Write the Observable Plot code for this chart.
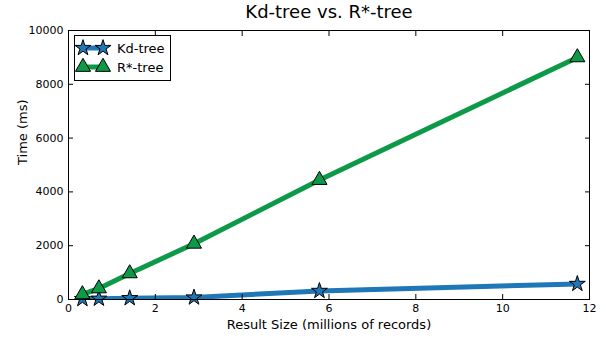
<!DOCTYPE html>
<html>
<head>
<meta charset="utf-8">
<script src="https://cdn.jsdelivr.net/npm/d3@7"></script>
<script src="https://cdn.jsdelivr.net/npm/@observablehq/plot@0.6"></script>
<style>
  html, body { margin: 0; padding: 0; background: #fff; }
  svg { display: block; }
</style>
</head>
<body>
<div id="chart"></div>
<script>
const title = "Kd-tree vs. R*-tree";
const xLabel = "Result Size (millions of records)";
const yLabel = "Time (ms)";
const resultSize = [0.32, 0.70, 1.41, 2.89, 5.78, 11.72];
const kdTree = [15, 30, 50, 75, 320, 580];
const rStarTree = [190, 410, 970, 2070, 4440, 9000];
const seriesNames = ["Kd-tree", "R*-tree"];
const seriesColors = ["#1f77b8", "#0d9a48"];
const seriesSymbols = ["star", "triangle"];
const xTicks = [0, 2, 4, 6, 8, 10, 12];
const yTicks = [0, 2000, 4000, 6000, 8000, 10000];

const kdData = resultSize.map((x, i) => ({x, y: kdTree[i]}));
const rData = resultSize.map((x, i) => ({x, y: rStarTree[i]}));

const font = "DejaVu Sans, sans-serif";
const W = 606, H = 339;
const mL = 68, mR = 17, mT = 30, mB = 40;

const plot = Plot.plot({
  width: W, height: H,
  marginLeft: mL, marginRight: mR, marginTop: mT, marginBottom: mB,
  style: {fontFamily: font, fontSize: "11px", color: "#000", background: "#fff"},
  x: {domain: [0, 12]},
  y: {domain: [0, 10000]},
  marks: [
    Plot.line(kdData, {x: "x", y: "y", stroke: seriesColors[0], strokeWidth: 5, clip: true}),
    Plot.dot(kdData, {x: "x", y: "y", symbol: seriesSymbols[0], r: 5, fill: seriesColors[0], stroke: "#000", strokeWidth: 1}),
    Plot.line(rData, {x: "x", y: "y", stroke: seriesColors[1], strokeWidth: 5, clip: true}),
    Plot.dot(rData, {x: "x", y: "y", symbol: seriesSymbols[1], r: 5.6, fill: seriesColors[1], stroke: "#000", strokeWidth: 1}),
    Plot.frame({stroke: "#000", strokeWidth: 1}),
    Plot.axisX(xTicks, {anchor: "bottom", tickSize: 0, tickPadding: 5, label: null, fontSize: 11, tickFormat: d3.format("d")}),
    Plot.axisX(xTicks, {anchor: "bottom", tickSize: -5, tickFormat: () => "", label: null}),
    Plot.axisX(xTicks, {anchor: "top", tickSize: -5, tickFormat: () => "", label: null}),
    Plot.axisY(yTicks, {anchor: "left", tickSize: 0, tickPadding: 5, label: null, fontSize: 11, tickFormat: d3.format("d")}),
    Plot.axisY(yTicks, {anchor: "left", tickSize: -5, tickFormat: () => "", label: null}),
    Plot.axisY(yTicks, {anchor: "right", tickSize: -5, tickFormat: () => "", label: null}),
    Plot.text([title], {frameAnchor: "top", lineAnchor: "middle", dy: -18, fontSize: 18, fill: "#000"}),
    Plot.text([xLabel], {frameAnchor: "bottom", lineAnchor: "middle", dy: 25, fontSize: 13, fill: "#000"}),
    Plot.text([yLabel], {frameAnchor: "left", lineAnchor: "middle", dx: -46, rotate: -90, fontSize: 13, fill: "#000"})
  ]
});

// Legend (matplotlib-style box, two markers per entry)
const svg = d3.select(plot);
const lg = svg.append("g").attr("font-family", font).attr("font-size", 13).attr("text-anchor", "start");
lg.append("rect").attr("x", 74.5).attr("y", 35.5).attr("width", 96).attr("height", 45)
  .attr("fill", "#fff").attr("stroke", "#000").attr("stroke-width", 1);
const rows = [48, 67];
const sizes = [Math.PI * 25, Math.PI * 5.6 * 5.6];
const symTypes = [d3.symbolStar, d3.symbolTriangle];
seriesNames.forEach((name, i) => {
  const y = rows[i];
  lg.append("line").attr("x1", 83).attr("x2", 103).attr("y1", y).attr("y2", y)
    .attr("stroke", seriesColors[i]).attr("stroke-width", 5);
  [83, 103].forEach(x => {
    lg.append("path").attr("d", d3.symbol(symTypes[i], sizes[i])())
      .attr("transform", `translate(${x},${y})`)
      .attr("fill", seriesColors[i]).attr("stroke", "#000").attr("stroke-width", 1);
  });
  lg.append("text").attr("x", 117).attr("y", y).attr("dy", "0.35em")
    .attr("text-anchor", "start").attr("fill", "#000").text(name);
});

document.getElementById("chart").appendChild(plot);
</script>
</body>
</html>
